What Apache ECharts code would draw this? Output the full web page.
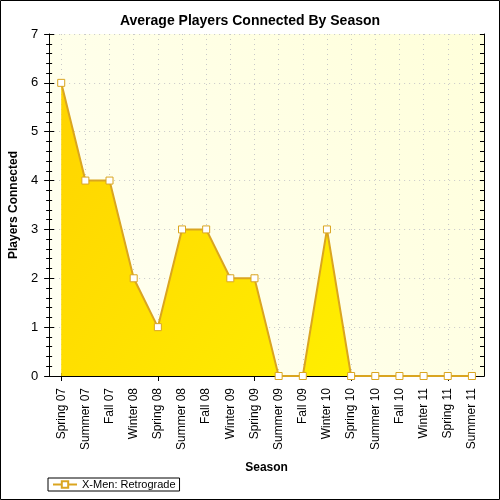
<!DOCTYPE html>
<html>
<head>
<meta charset="utf-8">
<script src="https://cdn.jsdelivr.net/npm/echarts@6/dist/echarts.min.js"></script>
<style>
    html, body { margin: 0; padding: 0; background: #fff; }
    #main { width: 500px; height: 500px; }
</style>
</head>
<body>
<div id="main"></div>
<script>
var seasons = ['Spring 07', 'Summer 07', 'Fall 07', 'Winter 08', 'Spring 08', 'Summer 08',
    'Fall 08', 'Winter 09', 'Spring 09', 'Summer 09', 'Fall 09', 'Winter 10',
    'Spring 10', 'Summer 10', 'Fall 10', 'Winter 11', 'Spring 11', 'Summer 11'];
var players = [6, 4, 4, 2, 1, 3, 3, 2, 2, 0, 0, 3, 0, 0, 0, 0, 0, 0];
var seriesName = 'X-Men: Retrograde';

var chart = echarts.init(document.getElementById('main'));
var font = 'Liberation Sans, Arial, sans-serif';

// extra axes only draw the inner / mirrored tick marks
function plainX(pos, inside, len) {
    return {
        type: 'category', data: seasons, position: pos, boundaryGap: true,
        axisLine: { show: pos === 'top', lineStyle: { color: '#000' } },
        axisTick: { show: true, inside: inside, length: len, alignWithLabel: true, lineStyle: { color: '#000' } },
        axisLabel: { show: false }, splitLine: { show: false }
    };
}
function plainY(pos, inside, len, minorLen) {
    return {
        type: 'value', min: 0, max: 7, interval: 1, position: pos,
        axisLine: { show: pos === 'right', lineStyle: { color: '#000' } },
        axisTick: { show: true, inside: inside, length: len, lineStyle: { color: '#000' } },
        minorTick: { show: true, splitNumber: 5, length: minorLen, lineStyle: { color: '#000' } },
        axisLabel: { show: false }, splitLine: { show: false }
    };
}

var option = {
    animation: false,
    title: {
        text: 'Average Players Connected By Season',
        left: 'center', top: 9,
        textStyle: { fontFamily: font, fontSize: 14, fontWeight: 'bold', color: '#000' }
    },
    grid: {
        left: 48, right: 16, top: 34, bottom: 124,
        show: true, borderWidth: 0,
        backgroundColor: new echarts.graphic.LinearGradient(0, 1, 1, 0, [
            { offset: 0, color: '#fffff4' },
            { offset: 1, color: '#ffffda' }
        ])
    },
    legend: {
        left: 48, top: 478,
        padding: [1, 4],
        borderColor: '#000', borderWidth: 1,
        itemWidth: 24, itemHeight: 8,
        textStyle: { fontFamily: font, fontSize: 11, color: '#000' },
        data: [seriesName]
    },
    xAxis: [
        {
            type: 'category', data: seasons, boundaryGap: true,
            name: 'Season', nameLocation: 'middle', nameGap: 86,
            nameTextStyle: { fontFamily: font, fontSize: 12, fontWeight: 'bold', color: '#000' },
            axisLine: { lineStyle: { color: '#000' } },
            axisTick: { alignWithLabel: true, length: 4, lineStyle: { color: '#000' } },
            axisLabel: { rotate: 90, margin: 12, interval: 0, fontFamily: font, fontSize: 12, color: '#000' },
            splitLine: { show: true, alignWithLabel: true, lineStyle: { color: '#c8c8c8', type: [1, 4] } }
        },
        plainX('bottom', true, 3),
        plainX('top', true, 5)
    ],
    yAxis: [
        {
            type: 'value', min: 0, max: 7, interval: 1,
            name: 'Players Connected', nameLocation: 'middle', nameGap: 27,
            nameTextStyle: { fontFamily: font, fontSize: 12, fontWeight: 'bold', color: '#000' },
            axisLine: { show: true, lineStyle: { color: '#000' } },
            axisTick: { show: true, length: 5, lineStyle: { color: '#000' } },
            minorTick: { show: true, splitNumber: 5, length: 3, lineStyle: { color: '#000' } },
            axisLabel: { margin: 11, fontFamily: font, fontSize: 13, color: '#000' },
            splitLine: { show: true, lineStyle: { color: '#c8c8c8', type: [1, 4] } }
        },
        plainY('left', true, 5, 3),
        plainY('right', true, 4, 4)
    ],
    series: [{
        name: seriesName,
        type: 'line',
        data: players,
        symbol: 'rect',
        symbolSize: 7,
        lineStyle: { color: '#daa520', width: 2 },
        itemStyle: { color: '#ffffff', borderColor: '#daa520', borderWidth: 1 },
        areaStyle: {
            opacity: 1,
            color: new echarts.graphic.LinearGradient(0, 0, 1, 1, [
                { offset: 0, color: '#ffd400' },
                { offset: 1, color: '#fff500' }
            ])
        }
    }],
    graphic: [{
        type: 'rect', silent: true,
        shape: { x: 0.5, y: 0.5, width: 499, height: 499 },
        style: { fill: 'none', stroke: '#000', lineWidth: 1 }
    }]
};

chart.setOption(option);
</script>
</body>
</html>
